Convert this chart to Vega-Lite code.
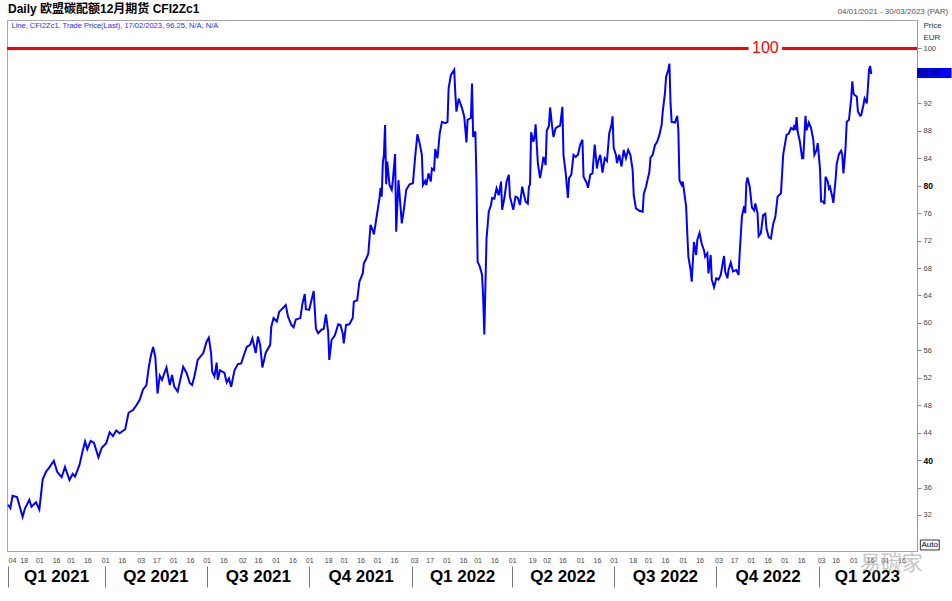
{
  "$schema": "https://vega.github.io/schema/vega-lite/v6.json",
  "width": 910,
  "height": 531,
  "autosize": "none",
  "padding": {"left": 7, "top": 20, "right": 35, "bottom": 50},
  "background": "white",
  "config": {"view": {"stroke": "#a8a8a8", "strokeWidth": 1}, "font": "Liberation Sans, Noto Sans CJK SC"},
  "title": {"text": "Daily 欧盟碳配额12月期货 CFI2Zc1", "anchor": "start", "frame": "group", "fontSize": 12, "fontWeight": "bold", "font": "Liberation Sans, Noto Sans CJK SC", "color": "#000000", "offset": 5, "dx": 1, "dy": 13},
  "datasets": {
    "price": [
      {"d":"2021-01-04","p":33.5},{"d":"2021-01-06","p":33.0},{"d":"2021-01-08","p":34.8},{"d":"2021-01-12","p":34.6},{"d":"2021-01-14","p":33.5},{"d":"2021-01-17","p":31.7},{"d":"2021-01-19","p":32.9},{"d":"2021-01-23","p":34.2},{"d":"2021-01-25","p":33.2},{"d":"2021-01-29","p":33.85},
      {"d":"2021-02-01","p":32.8},{"d":"2021-02-04","p":37.2},{"d":"2021-02-07","p":38.3},{"d":"2021-02-10","p":38.95},{"d":"2021-02-14","p":39.9},{"d":"2021-02-17","p":38.3},{"d":"2021-02-21","p":37.5},{"d":"2021-02-24","p":39.0},{"d":"2021-02-28","p":37.1},
      {"d":"2021-03-03","p":38.0},{"d":"2021-03-05","p":37.6},{"d":"2021-03-09","p":39.3},{"d":"2021-03-12","p":41.45},{"d":"2021-03-14","p":42.7},{"d":"2021-03-16","p":41.6},{"d":"2021-03-19","p":42.8},{"d":"2021-03-22","p":42.5},{"d":"2021-03-26","p":40.4},{"d":"2021-03-29","p":41.8},
      {"d":"2021-04-02","p":42.45},{"d":"2021-04-05","p":44.05},{"d":"2021-04-08","p":43.5},{"d":"2021-04-11","p":44.3},{"d":"2021-04-14","p":43.9},{"d":"2021-04-19","p":44.5},{"d":"2021-04-22","p":46.9},{"d":"2021-04-26","p":47.3},{"d":"2021-04-29","p":48.0},
      {"d":"2021-05-02","p":48.8},{"d":"2021-05-04","p":49.8},{"d":"2021-05-05","p":50.3},{"d":"2021-05-08","p":50.9},{"d":"2021-05-10","p":53.4},{"d":"2021-05-12","p":55.2},{"d":"2021-05-14","p":56.5},{"d":"2021-05-16","p":55.0},{"d":"2021-05-18","p":49.7},{"d":"2021-05-20","p":52.3},{"d":"2021-05-22","p":51.7},{"d":"2021-05-26","p":53.5},{"d":"2021-05-29","p":50.95},{"d":"2021-05-31","p":52.4},
      {"d":"2021-06-02","p":50.7},{"d":"2021-06-05","p":50.0},{"d":"2021-06-10","p":53.6},{"d":"2021-06-13","p":52.7},{"d":"2021-06-16","p":51.2},{"d":"2021-06-18","p":50.95},{"d":"2021-06-20","p":52.2},{"d":"2021-06-23","p":54.6},{"d":"2021-06-28","p":55.6},
      {"d":"2021-07-01","p":57.3},{"d":"2021-07-03","p":57.85},{"d":"2021-07-05","p":55.6},{"d":"2021-07-06","p":52.9},{"d":"2021-07-08","p":52.2},{"d":"2021-07-10","p":54.2},{"d":"2021-07-11","p":51.7},{"d":"2021-07-13","p":53.1},{"d":"2021-07-17","p":52.7},{"d":"2021-07-19","p":51.3},{"d":"2021-07-21","p":51.9},{"d":"2021-07-23","p":50.7},{"d":"2021-07-26","p":53.1},{"d":"2021-07-29","p":54.0},
      {"d":"2021-08-01","p":54.1},{"d":"2021-08-03","p":55.1},{"d":"2021-08-06","p":56.5},{"d":"2021-08-09","p":56.8},{"d":"2021-08-11","p":57.75},{"d":"2021-08-14","p":55.6},{"d":"2021-08-16","p":58.0},{"d":"2021-08-18","p":56.8},{"d":"2021-08-20","p":53.5},{"d":"2021-08-23","p":55.65},{"d":"2021-08-27","p":56.8},{"d":"2021-08-28","p":59.45},{"d":"2021-08-30","p":60.7},
      {"d":"2021-09-02","p":60.2},{"d":"2021-09-04","p":61.6},{"d":"2021-09-07","p":62.1},{"d":"2021-09-10","p":62.6},{"d":"2021-09-12","p":60.9},{"d":"2021-09-15","p":59.7},{"d":"2021-09-17","p":59.35},{"d":"2021-09-19","p":60.5},{"d":"2021-09-23","p":60.7},{"d":"2021-09-25","p":62.85},{"d":"2021-09-27","p":64.2},{"d":"2021-09-28","p":62.0},
      {"d":"2021-10-01","p":61.9},{"d":"2021-10-05","p":64.65},{"d":"2021-10-07","p":59.2},{"d":"2021-10-09","p":58.5},{"d":"2021-10-12","p":59.0},{"d":"2021-10-14","p":59.1},{"d":"2021-10-16","p":61.25},{"d":"2021-10-18","p":58.7},{"d":"2021-10-19","p":54.6},{"d":"2021-10-21","p":57.5},{"d":"2021-10-24","p":58.2},{"d":"2021-10-27","p":59.8},{"d":"2021-10-29","p":59.7},{"d":"2021-10-31","p":58.5},
      {"d":"2021-11-01","p":57.0},{"d":"2021-11-03","p":59.7},{"d":"2021-11-06","p":59.8},{"d":"2021-11-09","p":60.7},{"d":"2021-11-10","p":63.1},{"d":"2021-11-13","p":63.3},{"d":"2021-11-15","p":66.0},{"d":"2021-11-18","p":67.2},{"d":"2021-11-19","p":68.7},{"d":"2021-11-21","p":69.3},{"d":"2021-11-23","p":70.1},{"d":"2021-11-25","p":74.3},{"d":"2021-11-27","p":73.5},{"d":"2021-11-28","p":72.9},{"d":"2021-11-30","p":75.0},
      {"d":"2021-12-03","p":78.2},{"d":"2021-12-04","p":79.7},{"d":"2021-12-05","p":78.4},{"d":"2021-12-06","p":83.3},{"d":"2021-12-07","p":84.5},{"d":"2021-12-08","p":88.85},{"d":"2021-12-09","p":80.2},{"d":"2021-12-10","p":83.5},{"d":"2021-12-12","p":80.1},{"d":"2021-12-14","p":79.4},{"d":"2021-12-15","p":80.8},{"d":"2021-12-17","p":84.6},{"d":"2021-12-18","p":73.3},{"d":"2021-12-20","p":80.8},{"d":"2021-12-22","p":76.7},{"d":"2021-12-23","p":74.5},{"d":"2021-12-25","p":76.7},{"d":"2021-12-27","p":79.4},{"d":"2021-12-30","p":80.2},
      {"d":"2022-01-02","p":80.35},{"d":"2022-01-04","p":84.2},{"d":"2022-01-06","p":87.5},{"d":"2022-01-08","p":86.2},{"d":"2022-01-10","p":84.5},{"d":"2022-01-11","p":80.1},{"d":"2022-01-13","p":80.7},{"d":"2022-01-14","p":80.1},{"d":"2022-01-16","p":81.8},{"d":"2022-01-18","p":80.6},{"d":"2022-01-19","p":82.5},{"d":"2022-01-21","p":82.3},{"d":"2022-01-22","p":85.35},{"d":"2022-01-24","p":84.0},{"d":"2022-01-26","p":87.6},{"d":"2022-01-28","p":89.3},{"d":"2022-01-31","p":89.1},
      {"d":"2022-02-02","p":89.3},{"d":"2022-02-03","p":94.2},{"d":"2022-02-05","p":96.1},{"d":"2022-02-08","p":96.9},{"d":"2022-02-09","p":93.5},{"d":"2022-02-10","p":90.8},{"d":"2022-02-12","p":92.7},{"d":"2022-02-15","p":91.3},{"d":"2022-02-17","p":90.1},{"d":"2022-02-19","p":86.3},{"d":"2022-02-20","p":89.6},{"d":"2022-02-23","p":89.9},{"d":"2022-02-24","p":94.9},{"d":"2022-02-25","p":87.1},{"d":"2022-02-27","p":87.9},{"d":"2022-02-28","p":80.6},
      {"d":"2022-03-01","p":68.9},{"d":"2022-03-03","p":68.2},{"d":"2022-03-05","p":67.0},{"d":"2022-03-06","p":63.6},{"d":"2022-03-07","p":58.3},{"d":"2022-03-08","p":65.5},{"d":"2022-03-09","p":72.3},{"d":"2022-03-11","p":76.2},{"d":"2022-03-13","p":77.2},{"d":"2022-03-14","p":78.2},{"d":"2022-03-16","p":78.1},{"d":"2022-03-18","p":79.6},{"d":"2022-03-20","p":78.6},{"d":"2022-03-22","p":80.6},{"d":"2022-03-23","p":76.5},{"d":"2022-03-25","p":78.2},{"d":"2022-03-27","p":80.6},{"d":"2022-03-29","p":81.6},{"d":"2022-03-30","p":78.4},
      {"d":"2022-04-02","p":76.5},{"d":"2022-04-04","p":78.4},{"d":"2022-04-06","p":78.25},{"d":"2022-04-08","p":77.2},{"d":"2022-04-10","p":79.85},{"d":"2022-04-11","p":79.1},{"d":"2022-04-13","p":77.7},{"d":"2022-04-15","p":77.4},{"d":"2022-04-16","p":79.85},{"d":"2022-04-17","p":80.2},{"d":"2022-04-18","p":87.8},{"d":"2022-04-20","p":86.4},{"d":"2022-04-21","p":87.1},{"d":"2022-04-22","p":88.95},{"d":"2022-04-24","p":83.3},{"d":"2022-04-26","p":81.1},{"d":"2022-04-28","p":83.0},{"d":"2022-04-29","p":84.2},
      {"d":"2022-05-01","p":83.0},{"d":"2022-05-02","p":88.0},{"d":"2022-05-04","p":88.75},{"d":"2022-05-05","p":91.4},{"d":"2022-05-07","p":88.4},{"d":"2022-05-08","p":87.1},{"d":"2022-05-10","p":88.4},{"d":"2022-05-12","p":88.6},{"d":"2022-05-14","p":88.75},{"d":"2022-05-16","p":91.5},{"d":"2022-05-17","p":84.5},{"d":"2022-05-19","p":81.8},{"d":"2022-05-21","p":78.2},{"d":"2022-05-22","p":81.1},{"d":"2022-05-24","p":81.6},{"d":"2022-05-26","p":84.5},{"d":"2022-05-28","p":84.2},{"d":"2022-05-30","p":84.5},
      {"d":"2022-06-01","p":86.0},{"d":"2022-06-03","p":86.7},{"d":"2022-06-04","p":81.3},{"d":"2022-06-07","p":80.35},{"d":"2022-06-08","p":79.7},{"d":"2022-06-10","p":81.6},{"d":"2022-06-12","p":81.8},{"d":"2022-06-14","p":86.0},{"d":"2022-06-16","p":82.5},{"d":"2022-06-17","p":83.5},{"d":"2022-06-19","p":84.5},{"d":"2022-06-21","p":81.9},{"d":"2022-06-23","p":84.0},{"d":"2022-06-25","p":83.6},{"d":"2022-06-27","p":87.6},{"d":"2022-06-29","p":88.85},{"d":"2022-06-30","p":90.1},
      {"d":"2022-07-01","p":85.5},{"d":"2022-07-03","p":84.5},{"d":"2022-07-04","p":83.3},{"d":"2022-07-06","p":84.5},{"d":"2022-07-08","p":82.8},{"d":"2022-07-10","p":85.2},{"d":"2022-07-12","p":84.0},{"d":"2022-07-14","p":85.2},{"d":"2022-07-16","p":84.5},{"d":"2022-07-18","p":82.3},{"d":"2022-07-19","p":78.6},{"d":"2022-07-21","p":76.7},{"d":"2022-07-24","p":76.35},{"d":"2022-07-27","p":76.2},{"d":"2022-07-28","p":78.8},{"d":"2022-07-30","p":79.85},
      {"d":"2022-08-02","p":82.0},{"d":"2022-08-03","p":84.1},{"d":"2022-08-05","p":84.5},{"d":"2022-08-07","p":85.9},{"d":"2022-08-09","p":86.4},{"d":"2022-08-11","p":87.4},{"d":"2022-08-13","p":88.85},{"d":"2022-08-14","p":90.8},{"d":"2022-08-16","p":93.5},{"d":"2022-08-17","p":95.9},{"d":"2022-08-19","p":96.9},{"d":"2022-08-20","p":97.8},{"d":"2022-08-21","p":92.0},{"d":"2022-08-22","p":89.3},{"d":"2022-08-25","p":89.2},{"d":"2022-08-27","p":90.2},{"d":"2022-08-28","p":88.1},{"d":"2022-08-29","p":80.8},{"d":"2022-08-31","p":80.1},
      {"d":"2022-09-01","p":80.6},{"d":"2022-09-04","p":76.9},{"d":"2022-09-05","p":73.1},{"d":"2022-09-06","p":69.65},{"d":"2022-09-08","p":67.7},{"d":"2022-09-09","p":66.0},{"d":"2022-09-11","p":71.8},{"d":"2022-09-13","p":69.9},{"d":"2022-09-14","p":72.1},{"d":"2022-09-16","p":73.1},{"d":"2022-09-18","p":71.5},{"d":"2022-09-20","p":70.6},{"d":"2022-09-21","p":69.65},{"d":"2022-09-23","p":70.15},{"d":"2022-09-24","p":67.2},{"d":"2022-09-26","p":69.9},{"d":"2022-09-27","p":66.3},{"d":"2022-09-29","p":65.2},
      {"d":"2022-10-01","p":66.5},{"d":"2022-10-03","p":66.3},{"d":"2022-10-05","p":67.0},{"d":"2022-10-07","p":68.9},{"d":"2022-10-08","p":69.75},{"d":"2022-10-09","p":67.5},{"d":"2022-10-11","p":66.5},{"d":"2022-10-12","p":67.7},{"d":"2022-10-14","p":68.8},{"d":"2022-10-16","p":67.5},{"d":"2022-10-19","p":67.7},{"d":"2022-10-21","p":67.0},{"d":"2022-10-22","p":70.15},{"d":"2022-10-24","p":75.5},{"d":"2022-10-26","p":77.0},{"d":"2022-10-27","p":76.0},{"d":"2022-10-28","p":80.35},{"d":"2022-10-29","p":81.2},{"d":"2022-10-31","p":79.85},
      {"d":"2022-11-02","p":76.8},{"d":"2022-11-04","p":76.4},{"d":"2022-11-05","p":77.4},{"d":"2022-11-07","p":76.0},{"d":"2022-11-08","p":72.65},{"d":"2022-11-10","p":73.1},{"d":"2022-11-12","p":75.7},{"d":"2022-11-14","p":75.9},{"d":"2022-11-15","p":73.8},{"d":"2022-11-17","p":72.5},{"d":"2022-11-19","p":72.3},{"d":"2022-11-21","p":74.4},{"d":"2022-11-23","p":75.5},{"d":"2022-11-25","p":78.4},{"d":"2022-11-28","p":78.9},{"d":"2022-11-30","p":84.5},
      {"d":"2022-12-03","p":87.4},{"d":"2022-12-05","p":87.6},{"d":"2022-12-07","p":88.4},{"d":"2022-12-09","p":88.2},{"d":"2022-12-10","p":88.85},{"d":"2022-12-11","p":88.1},{"d":"2022-12-12","p":90.0},{"d":"2022-12-13","p":87.9},{"d":"2022-12-15","p":86.4},{"d":"2022-12-17","p":84.0},{"d":"2022-12-18","p":84.0},{"d":"2022-12-20","p":90.2},{"d":"2022-12-21","p":88.1},{"d":"2022-12-23","p":89.2},{"d":"2022-12-25","p":88.4},{"d":"2022-12-27","p":86.7},{"d":"2022-12-28","p":84.5},{"d":"2022-12-30","p":85.2},{"d":"2022-12-31","p":86.2},
      {"d":"2023-01-02","p":82.5},{"d":"2023-01-03","p":77.7},{"d":"2023-01-05","p":77.7},{"d":"2023-01-06","p":77.3},{"d":"2023-01-07","p":81.3},{"d":"2023-01-09","p":80.6},{"d":"2023-01-10","p":79.6},{"d":"2023-01-11","p":79.85},{"d":"2023-01-13","p":78.4},{"d":"2023-01-14","p":77.5},{"d":"2023-01-16","p":80.9},{"d":"2023-01-17","p":83.15},{"d":"2023-01-19","p":84.6},{"d":"2023-01-21","p":85.1},{"d":"2023-01-22","p":84.5},{"d":"2023-01-23","p":81.8},{"d":"2023-01-24","p":83.5},{"d":"2023-01-25","p":85.8},{"d":"2023-01-26","p":89.3},{"d":"2023-01-28","p":89.6},{"d":"2023-01-30","p":92.7},{"d":"2023-01-31","p":95.2},
      {"d":"2023-02-01","p":93.5},{"d":"2023-02-02","p":93.2},{"d":"2023-02-04","p":93.0},{"d":"2023-02-05","p":90.8},{"d":"2023-02-07","p":90.2},{"d":"2023-02-08","p":90.3},{"d":"2023-02-10","p":91.8},{"d":"2023-02-11","p":92.7},{"d":"2023-02-13","p":92.0},{"d":"2023-02-14","p":94.4},{"d":"2023-02-15","p":96.9},{"d":"2023-02-16","p":97.45},{"d":"2023-02-17","p":96.25}
    ],
    "level": [
      {"s":"2021-01-03","e":"2022-10-30","v":100},
      {"s":"2022-11-29","e":"2023-03-30","v":100}
    ]
  },
  "layer": [
    {
      "data": {"name": "price"},
      "mark": {"type": "line", "color": "#0000ff", "strokeWidth": 2, "interpolate": "linear"},
      "encoding": {
        "x": {"field": "d", "type": "temporal",
          "scale": {"type": "utc", "domain": [{"year":2021,"month":1,"date":3,"utc":true},{"year":2023,"month":3,"date":30,"utc":true}]},
          "axis": {"orient": "bottom", "title": null, "grid": false, "domain": false, "ticks": false, "tickSize": 0,
            "format": "%d", "labelFontSize": 7, "labelColor": "#444444", "labelPadding": 5, "labelOverlap": false, "labelBound": false, "labelFlush": 4, "labelBaseline": "top",
            "values": [
              {"year":2021,"month":1,"date":4,"utc":true},{"year":2021,"month":1,"date":18,"utc":true},{"year":2021,"month":2,"date":1,"utc":true},{"year":2021,"month":2,"date":16,"utc":true},{"year":2021,"month":3,"date":1,"utc":true},{"year":2021,"month":3,"date":16,"utc":true},
              {"year":2021,"month":4,"date":1,"utc":true},{"year":2021,"month":4,"date":16,"utc":true},{"year":2021,"month":5,"date":3,"utc":true},{"year":2021,"month":5,"date":17,"utc":true},{"year":2021,"month":6,"date":1,"utc":true},{"year":2021,"month":6,"date":16,"utc":true},
              {"year":2021,"month":7,"date":1,"utc":true},{"year":2021,"month":7,"date":16,"utc":true},{"year":2021,"month":8,"date":2,"utc":true},{"year":2021,"month":8,"date":16,"utc":true},{"year":2021,"month":9,"date":1,"utc":true},{"year":2021,"month":9,"date":16,"utc":true},
              {"year":2021,"month":10,"date":1,"utc":true},{"year":2021,"month":10,"date":18,"utc":true},{"year":2021,"month":11,"date":1,"utc":true},{"year":2021,"month":11,"date":16,"utc":true},{"year":2021,"month":12,"date":1,"utc":true},{"year":2021,"month":12,"date":16,"utc":true},
              {"year":2022,"month":1,"date":3,"utc":true},{"year":2022,"month":1,"date":17,"utc":true},{"year":2022,"month":2,"date":1,"utc":true},{"year":2022,"month":2,"date":16,"utc":true},{"year":2022,"month":3,"date":1,"utc":true},{"year":2022,"month":3,"date":16,"utc":true},
              {"year":2022,"month":4,"date":1,"utc":true},{"year":2022,"month":4,"date":19,"utc":true},{"year":2022,"month":5,"date":2,"utc":true},{"year":2022,"month":5,"date":16,"utc":true},{"year":2022,"month":6,"date":1,"utc":true},{"year":2022,"month":6,"date":16,"utc":true},
              {"year":2022,"month":7,"date":1,"utc":true},{"year":2022,"month":7,"date":18,"utc":true},{"year":2022,"month":8,"date":1,"utc":true},{"year":2022,"month":8,"date":16,"utc":true},{"year":2022,"month":9,"date":1,"utc":true},{"year":2022,"month":9,"date":16,"utc":true},
              {"year":2022,"month":10,"date":3,"utc":true},{"year":2022,"month":10,"date":17,"utc":true},{"year":2022,"month":11,"date":1,"utc":true},{"year":2022,"month":11,"date":16,"utc":true},{"year":2022,"month":12,"date":1,"utc":true},{"year":2022,"month":12,"date":16,"utc":true},
              {"year":2023,"month":1,"date":3,"utc":true},{"year":2023,"month":1,"date":16,"utc":true},{"year":2023,"month":2,"date":1,"utc":true},{"year":2023,"month":2,"date":16,"utc":true},{"year":2023,"month":3,"date":1,"utc":true},{"year":2023,"month":3,"date":16,"utc":true}
            ]}},
        "y": {"field": "p", "type": "quantitative",
          "scale": {"domain": [26.75, 104.15], "zero": false, "nice": false},
          "axis": {"orient": "right", "grid": false, "values": [32,36,40,44,48,52,56,60,64,68,72,76,80,84,88,92,100],
            "domainColor": "#999999", "tickColor": "#888888", "tickSize": 4, "labelPadding": 2,
            "labelFontSize": {"condition": {"test": "datum.value == 40 || datum.value == 80", "value": 8.5}, "value": 7.5},
            "labelFontWeight": {"condition": {"test": "datum.value == 40 || datum.value == 80", "value": "bold"}, "value": "normal"},
            "labelColor": {"condition": {"test": "datum.value == 40 || datum.value == 80", "value": "#000000"}, "value": "#444444"},
            "title": ["Price", "EUR"], "titleAngle": 0, "titleX": 6, "titleY": 1, "titleAlign": "left", "titleBaseline": "top",
            "titleFontSize": 8, "titleFontWeight": "normal", "titleColor": "#333333", "titleLineHeight": 12}}
      }
    },
    {
      "data": {"name": "level"},
      "mark": {"type": "rule", "color": "#ff0000", "strokeWidth": 3},
      "encoding": {
        "x": {"field": "s", "type": "temporal",
          "scale": {"type": "utc", "domain": [{"year":2021,"month":1,"date":3,"utc":true},{"year":2023,"month":3,"date":30,"utc":true}]},
          "axis": {"orient": "bottom", "title": null, "grid": false, "domain": false, "ticks": false, "tickSize": 0,
            "labelFontSize": 17, "labelFontWeight": "bold", "labelColor": "#000000", "labelPadding": 17, "labelOverlap": false, "labelBound": false, "labelBaseline": "top",
            "labelExpr": "'Q' + (floor(utcmonth(datum.value)/3)+1) + ' ' + utcyear(datum.value)",
            "values": [
              {"year":2021,"month":2,"date":16,"utc":true},{"year":2021,"month":5,"date":16,"utc":true},{"year":2021,"month":8,"date":16,"utc":true},{"year":2021,"month":11,"date":16,"utc":true},
              {"year":2022,"month":2,"date":15,"utc":true},{"year":2022,"month":5,"date":16,"utc":true},{"year":2022,"month":8,"date":16,"utc":true},{"year":2022,"month":11,"date":16,"utc":true},
              {"year":2023,"month":2,"date":13,"utc":true}
            ]}},
        "x2": {"field": "e"},
        "y": {"field": "v", "type": "quantitative", "scale": {"domain": [26.75, 104.15], "zero": false, "nice": false}, "axis": null}
      }
    },
    {
      "data": {"values": [{"d": "2022-11-14", "v": 100, "t": "100"}]},
      "mark": {"type": "text", "color": "#ff0000", "fontSize": 16, "align": "center", "baseline": "middle", "font": "Liberation Sans"},
      "encoding": {
        "x": {"field": "d", "type": "temporal",
          "scale": {"type": "utc", "domain": [{"year":2021,"month":1,"date":3,"utc":true},{"year":2023,"month":3,"date":30,"utc":true}]},
          "axis": {"orient": "bottom", "title": null, "grid": false, "domain": false, "labels": false, "ticks": true, "tickSize": 21, "offset": 15, "tickColor": "#777777", "tickWidth": 1,
            "values": [
              {"year":2021,"month":1,"date":4,"utc":true},{"year":2021,"month":4,"date":1,"utc":true},{"year":2021,"month":7,"date":1,"utc":true},{"year":2021,"month":10,"date":1,"utc":true},
              {"year":2022,"month":1,"date":1,"utc":true},{"year":2022,"month":4,"date":1,"utc":true},{"year":2022,"month":7,"date":1,"utc":true},{"year":2022,"month":10,"date":1,"utc":true},
              {"year":2023,"month":1,"date":1,"utc":true}
            ]}},
        "y": {"field": "v", "type": "quantitative", "scale": {"domain": [26.75, 104.15], "zero": false, "nice": false}, "axis": null},
        "text": {"field": "t"}
      }
    },
    {
      "data": {"values": [{"d": "2021-01-07", "v": 103.3, "t": "Line, CFI2Zc1, Trade Price(Last), 17/02/2023, 96.25, N/A, N/A"}]},
      "mark": {"type": "text", "color": "#2a2aff", "fontSize": 7.5, "align": "left", "baseline": "middle"},
      "encoding": {
        "x": {"field": "d", "type": "temporal", "scale": {"type": "utc", "domain": [{"year":2021,"month":1,"date":3,"utc":true},{"year":2023,"month":3,"date":30,"utc":true}]}, "axis": null},
        "y": {"field": "v", "type": "quantitative", "scale": {"domain": [26.75, 104.15], "zero": false, "nice": false}, "axis": null},
        "text": {"field": "t"}
      }
    },
    {
      "data": {"values": [{"d": "2023-04-27", "v": 105.3, "t": "04/01/2021 - 30/03/2023 (PAR)"}]},
      "mark": {"type": "text", "color": "#555555", "fontSize": 8, "align": "right", "baseline": "middle"},
      "encoding": {
        "x": {"field": "d", "type": "temporal", "scale": {"type": "utc", "domain": [{"year":2021,"month":1,"date":3,"utc":true},{"year":2023,"month":3,"date":30,"utc":true}]}, "axis": null},
        "y": {"field": "v", "type": "quantitative", "scale": {"domain": [26.75, 104.15], "zero": false, "nice": false}, "axis": null},
        "text": {"field": "t"}
      }
    },
    {
      "data": {"values": [{"a": "2023-03-30", "b": "2023-04-30", "lo": 95.7, "hi": 97.15}]},
      "mark": {"type": "rect", "color": "#0000ff"},
      "encoding": {
        "x": {"field": "a", "type": "temporal", "scale": {"type": "utc", "domain": [{"year":2021,"month":1,"date":3,"utc":true},{"year":2023,"month":3,"date":30,"utc":true}]}, "axis": null},
        "x2": {"field": "b"},
        "y": {"field": "lo", "type": "quantitative", "scale": {"domain": [26.75, 104.15], "zero": false, "nice": false}, "axis": null},
        "y2": {"field": "hi"}
      }
    },
    {
      "data": {"values": [{"d": "2023-03-31", "v": 96.4, "t": "96.25"}]},
      "mark": {"type": "text", "color": "#000020", "fontSize": 8.5, "align": "left", "baseline": "middle"},
      "encoding": {
        "x": {"field": "d", "type": "temporal", "scale": {"type": "utc", "domain": [{"year":2021,"month":1,"date":3,"utc":true},{"year":2023,"month":3,"date":30,"utc":true}]}, "axis": null},
        "y": {"field": "v", "type": "quantitative", "scale": {"domain": [26.75, 104.15], "zero": false, "nice": false}, "axis": null},
        "text": {"field": "t"}
      }
    },
    {
      "data": {"values": [{"a": "2023-04-02", "b": "2023-04-19", "lo": 26.9, "hi": 28.35}]},
      "mark": {"type": "rect", "fill": "#ffffff", "stroke": "#000000", "strokeWidth": 0.8},
      "encoding": {
        "x": {"field": "a", "type": "temporal", "scale": {"type": "utc", "domain": [{"year":2021,"month":1,"date":3,"utc":true},{"year":2023,"month":3,"date":30,"utc":true}]}, "axis": null},
        "x2": {"field": "b"},
        "y": {"field": "lo", "type": "quantitative", "scale": {"domain": [26.75, 104.15], "zero": false, "nice": false}, "axis": null},
        "y2": {"field": "hi"}
      }
    },
    {
      "data": {"values": [{"d": "2023-04-03", "v": 27.6, "t": "Auto"}]},
      "mark": {"type": "text", "color": "#000000", "fontSize": 8, "align": "left", "baseline": "middle"},
      "encoding": {
        "x": {"field": "d", "type": "temporal", "scale": {"type": "utc", "domain": [{"year":2021,"month":1,"date":3,"utc":true},{"year":2023,"month":3,"date":30,"utc":true}]}, "axis": null},
        "y": {"field": "v", "type": "quantitative", "scale": {"domain": [26.75, 104.15], "zero": false, "nice": false}, "axis": null},
        "text": {"field": "t"}
      }
    },
    {
      "data": {"values": [{"d": "2023-03-07", "v": 24.8, "t": "易碳家"}]},
      "mark": {"type": "text", "color": "#999999", "opacity": 0.55, "fontSize": 21, "align": "center", "baseline": "middle", "font": "Noto Sans CJK SC"},
      "encoding": {
        "x": {"field": "d", "type": "temporal", "scale": {"type": "utc", "domain": [{"year":2021,"month":1,"date":3,"utc":true},{"year":2023,"month":3,"date":30,"utc":true}]}, "axis": null},
        "y": {"field": "v", "type": "quantitative", "scale": {"domain": [26.75, 104.15], "zero": false, "nice": false}, "axis": null},
        "text": {"field": "t"}
      }
    }
  ],
  "resolve": {"axis": {"x": "independent", "y": "independent"}}
}
